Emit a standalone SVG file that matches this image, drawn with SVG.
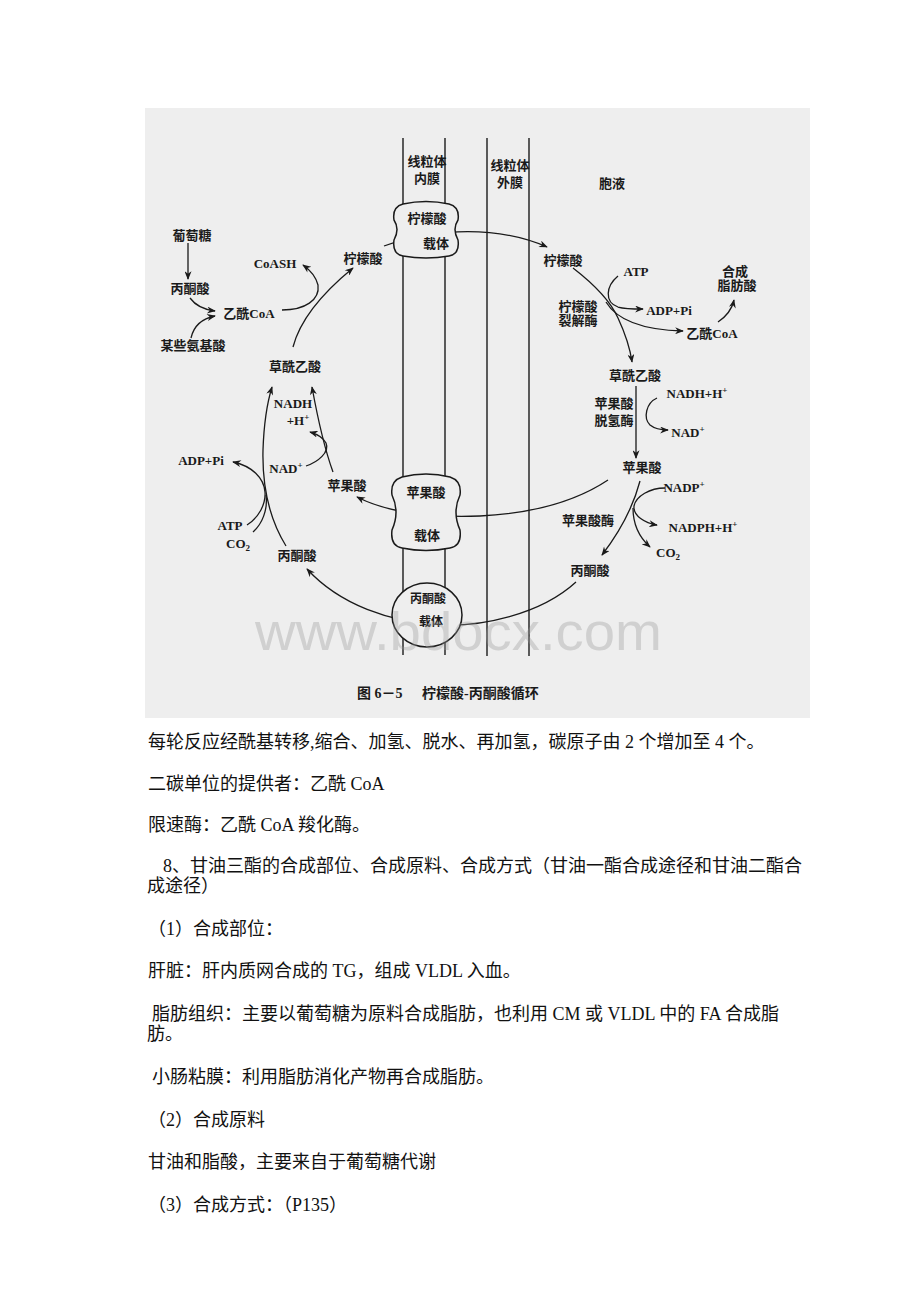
<svg xmlns="http://www.w3.org/2000/svg" width="920" height="1302" viewBox="0 0 920 1302">
<defs>
<style>
.t{font-family:"Liberation Serif","Noto Sans CJK SC",serif;font-size:13px;font-weight:bold;fill:#1a1a1a;text-anchor:middle}
.t2{font-size:12px}
.b{font-family:"Liberation Serif","Noto Sans CJK SC",serif;font-size:18px;fill:#111}
.cap{font-family:"Liberation Serif","Noto Sans CJK SC",serif;font-size:14px;font-weight:bold;fill:#1a1a1a}
.c{fill:none;stroke:#1a1a1a;stroke-width:1.3}
.a{marker-end:url(#ah)}
.m{fill:none;stroke:#1a1a1a;stroke-width:1.4}
.car{fill:#eeeeee;stroke:#1a1a1a;stroke-width:1.5}
.s{font-size:9px}
</style>
<marker id="ah" viewBox="0 0 10 8" refX="9" refY="4" markerWidth="10" markerHeight="7" markerUnits="userSpaceOnUse" orient="auto">
<path d="M0,0 L10,4 L0,8 L3,4 Z" fill="#1a1a1a"/>
</marker>
</defs>
<rect width="920" height="1302" fill="#ffffff"/>
<rect id="scan" x="145" y="108" width="665" height="610" fill="#eeeeee"/>

<g id="membranes">
<line class="m" x1="403" y1="138" x2="403" y2="655"/>
<line class="m" x1="445" y1="138" x2="445" y2="655"/>
<line class="m" x1="487" y1="138" x2="487" y2="656"/>
<line class="m" x1="529" y1="138" x2="529" y2="656"/>
</g>

<g id="connectors">
<path class="c a" d="M188,243 L188,279"/>
<path class="c a" d="M190,298 Q198,309 215,311"/>
<path class="c a" d="M191,338 Q195,320 215,316"/>
<path class="c a" d="M282,310 C305,310 320,300 318,285 C316,277 310,270 303,265"/>
<path class="c a" d="M293,347 C300,320 320,295 353,268"/>
<path class="c a" d="M384,246 C420,232 490,222 547,247"/>
<path class="c a" d="M573,268 C595,285 610,300 618,318 C625,333 630,348 632,362"/>
<path class="c a" d="M618,276 C606,286 604,302 618,307 C625,309 633,309 643,309"/>
<path class="c a" d="M606,302 C618,322 645,330 683,331"/>
<path class="c a" d="M718,322 C727,316 732,309 734,300"/>
<path class="c a" d="M636,386 L636,458"/>
<path class="c a" d="M657,398 C646,403 643,418 650,425 C655,429 660,430 668,430"/>
<path class="c a" d="M640,481 C635,500 625,525 602,555"/>
<path class="c a" d="M665,488 C650,488 636,496 634,506 C633,516 645,523 657,525"/>
<path class="c a" d="M633,508 C633,525 640,538 650,547"/>
<path class="c a" d="M608,480 Q560,512 480,516 Q400,519 357,497"/>
<path class="c a" d="M576,582 C540,615 480,627 440,625 C390,622 340,605 307,569"/>
<path class="c a" d="M286,546 C270,520 262,490 263,450 C264,420 268,400 272,387"/>
<path class="c a" d="M247,525 C258,518 266,505 265,492 C264,478 252,466 233,462"/>
<path class="c" d="M253,532 C262,524 268,510 266,495"/>
<path class="c a" d="M333,472 C325,450 318,420 312,387"/>
<path class="c a" d="M306,466 C318,462 330,452 326,443 C323,437 317,434 310,432"/>
</g>

<g id="citrate-carrier">
<path class="car" d="M403,204 Q426,199 449,204 Q460,207 458,220 Q452,229 458,240 Q460,254 449,256 Q426,260 403,256 Q392,254 394,240 Q400,229 394,220 Q392,207 403,204 Z"/>
<text class="t" x="427" y="223">柠檬酸</text>
<text class="t" x="436" y="248">载体</text>
</g>
<g id="malate-carrier">
<path class="car" d="M402,477 Q426,471 450,477 Q462,481 460,495 Q452,512 460,530 Q462,546 450,548 Q426,553 402,548 Q390,546 392,530 Q400,512 392,495 Q390,481 402,477 Z"/>
<text class="t" x="426" y="497">苹果酸</text>
<text class="t" x="427" y="540">载体</text>
</g>
<g id="pyruvate-carrier">
<ellipse class="car" cx="427" cy="615" rx="35" ry="32"/>
<text class="t t2" x="428" y="603">丙酮酸</text>
<text class="t t2" x="431" y="626">载体</text>
</g>

<g id="labels-membrane">
<text class="t" x="427" y="166">线粒体</text>
<text class="t" x="427" y="183">内膜</text>
<text class="t" x="510" y="170">线粒体</text>
<text class="t" x="510" y="187">外膜</text>
<text class="t" x="612" y="188">胞液</text>
</g>

<g id="n-glucose"><text class="t" x="192" y="240">葡萄糖</text></g>
<g id="n-pyruvate-l1"><text class="t" x="190" y="293">丙酮酸</text></g>
<g id="n-acetylcoa-l"><text class="t" x="249" y="318">乙酰CoA</text></g>
<g id="n-aminoacid"><text class="t" x="193" y="350">某些氨基酸</text></g>
<g id="n-coash"><text class="t" x="275" y="268">CoASH</text></g>
<g id="n-citrate-l"><text class="t" x="363" y="263">柠檬酸</text></g>
<g id="n-oaa-l"><text class="t" x="295" y="371">草酰乙酸</text></g>
<g id="n-nadh-l"><text class="t" x="293" y="408">NADH</text><text class="t" x="298" y="425">+H<tspan class="s" dy="-5">+</tspan></text></g>
<g id="n-nad-l"><text class="t" x="286" y="473">NAD<tspan class="s" dy="-5">+</tspan></text></g>
<g id="n-adppi-l"><text class="t" x="201" y="465">ADP+Pi</text></g>
<g id="n-malate-l"><text class="t" x="347" y="490">苹果酸</text></g>
<g id="n-atp-l"><text class="t" x="230" y="530">ATP</text></g>
<g id="n-co2-l"><text class="t" x="238" y="548">CO<tspan class="s" dy="3">2</tspan></text></g>
<g id="n-pyruvate-l2"><text class="t" x="297" y="560">丙酮酸</text></g>

<g id="n-citrate-r"><text class="t" x="563" y="265">柠檬酸</text></g>
<g id="n-atp-r"><text class="t" x="636" y="276">ATP</text></g>
<g id="n-fa"><text class="t" x="735" y="276">合成</text><text class="t" x="737" y="290">脂肪酸</text></g>
<g id="n-lyase"><text class="t" x="578" y="311">柠檬酸</text><text class="t" x="578" y="325">裂解酶</text></g>
<g id="n-adppi-r"><text class="t" x="669" y="315">ADP+Pi</text></g>
<g id="n-acetylcoa-r"><text class="t" x="712" y="338">乙酰CoA</text></g>
<g id="n-oaa-r"><text class="t" x="635" y="380">草酰乙酸</text></g>
<g id="n-nadh-r"><text class="t" x="697" y="398">NADH+H<tspan class="s" dy="-5">+</tspan></text></g>
<g id="n-mdh"><text class="t" x="614" y="408">苹果酸</text><text class="t" x="614" y="425">脱氢酶</text></g>
<g id="n-nad-r"><text class="t" x="688" y="437">NAD<tspan class="s" dy="-5">+</tspan></text></g>
<g id="n-malate-r"><text class="t" x="642" y="472">苹果酸</text></g>
<g id="n-nadp"><text class="t" x="684" y="492">NADP<tspan class="s" dy="-5">+</tspan></text></g>
<g id="n-me"><text class="t" x="588" y="525">苹果酸酶</text></g>
<g id="n-nadph"><text class="t" x="703" y="532">NADPH+H<tspan class="s" dy="-5">+</tspan></text></g>
<g id="n-co2-r"><text class="t" x="668" y="557">CO<tspan class="s" dy="3">2</tspan></text></g>
<g id="n-pyruvate-r"><text class="t" x="590" y="575">丙酮酸</text></g>

<g id="caption">
<text class="cap" x="357" y="698">图 6－5</text>
<text class="cap" x="422" y="698">柠檬酸-丙酮酸循环</text>
</g>

<text id="watermark" x="255" y="650" font-family="Liberation Sans, Arial, sans-serif" font-size="54" fill="#999999" fill-opacity="0.35" textLength="407" lengthAdjust="spacingAndGlyphs">www.bdocx.com</text>

<g id="body">
<text class="b" x="148" y="748">每轮反应经酰基转移,缩合、加氢、脱水、再加氢，碳原子由 2 个增加至 4 个。</text>
<text class="b" x="148" y="790">二碳单位的提供者：乙酰 CoA</text>
<text class="b" x="148" y="831">限速酶：乙酰 CoA 羧化酶。</text>
<text class="b" x="163" y="872">8、甘油三酯的合成部位、合成原料、合成方式（甘油一酯合成途径和甘油二酯合</text>
<text class="b" x="147" y="892">成途径）</text>
<text class="b" x="148" y="935">（1）合成部位：</text>
<text class="b" x="148" y="977">肝脏：肝内质网合成的 TG，组成 VLDL 入血。</text>
<text class="b" x="152" y="1020">脂肪组织：主要以葡萄糖为原料合成脂肪，也利用 CM 或 VLDL 中的 FA 合成脂</text>
<text class="b" x="147" y="1040">肪。</text>
<text class="b" x="152" y="1083">小肠粘膜：利用脂肪消化产物再合成脂肪。</text>
<text class="b" x="148" y="1126">（2）合成原料</text>
<text class="b" x="148" y="1168">甘油和脂酸，主要来自于葡萄糖代谢</text>
<text class="b" x="148" y="1211">（3）合成方式：（P135）</text>
</g>
</svg>
